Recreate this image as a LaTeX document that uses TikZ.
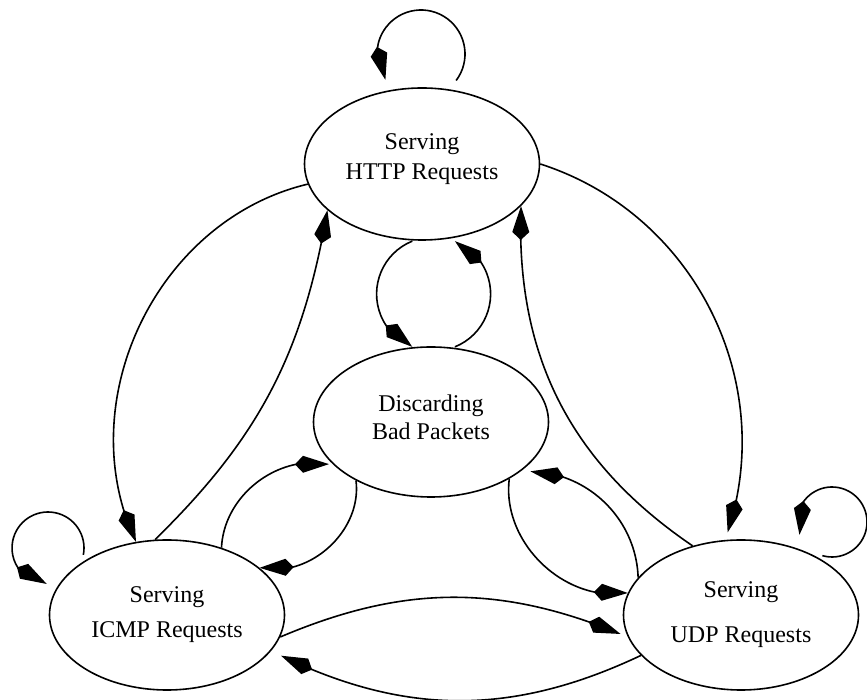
\documentclass[tikz,border=0pt]{standalone}
\usepackage{fontspec}
\setmainfont{Liberation Serif}
\usetikzlibrary{shapes.geometric,arrows.meta,bending,calc}
% invisible strut that deepens the last line of a label
\newcommand\deepline[1]{\rule[-#1]{0pt}{0pt}}
\begin{document}
\begin{tikzpicture}[x=1bp,y=1bp,
  state/.style={ellipse,draw,line width=1.6bp,minimum width=235bp,minimum height=150bp,
    inner sep=0pt,align=center,font=\fontsize{24bp}{30bp}\selectfont},
  edge/.style={line width=1.6bp,-{Kite[length=34bp,width=17bp,inset=8bp,flex]}}]
\useasboundingbox (0,0) rectangle (867,700);

% states
\node[state,minimum height=152bp] (http) at (422,536) {Serving\\HTTP Requests\deepline{15bp}};
\node[state] (disc) at (431,278) {Discarding\\[-2bp]Bad Packets\deepline{10bp}};
\node[state] (icmp) at (167,85) {Serving\\[5bp]ICMP Requests};
\node[state] (udp)  at (741,85) {Serving\\[15bp]UDP Requests};

% centres of the looping arcs
\coordinate (hloop) at ($(http.center)+(-1,110)$);
\coordinate (iloop) at ($(icmp.center)+(-119,67)$);
\coordinate (uloop) at ($(udp.center)+(91,93)$);
\coordinate (hd) at (433.6,406);

% self loops
\draw[edge] ($(hloop)+(-37:44)$) arc[start angle=-37,end angle=216,radius=44];
\draw[edge] ($(iloop)+(-11:36)$) arc[start angle=-11,end angle=268,radius=36];
\draw[edge] ($(uloop)+(-106:35)$) arc[start angle=-106,end angle=201.5,radius=35];

% HTTP <-> Discarding
\draw[edge] ($(hd)+(112:57)$) arc[start angle=112,end angle=248,radius=57];
\draw[edge] ($(hd)+(-68:57)$) arc[start angle=-68,end angle=68,radius=57];

% HTTP <-> ICMP
\draw[edge] (http.190) to[bend right=51] (icmp.113);
\draw[edge] (icmp.99) to[bend right=18] (http.206);

% HTTP <-> UDP
\draw[edge,shorten >=8bp] (http.0) to[bend left=46] (udp.102);
\draw[edge] (udp.125) to[bend left=29] (http.-23);

% Discarding <-> ICMP
\draw[edge,shorten >=5bp] (icmp.51) to[bend left=51] (disc.204);
\draw[edge] (disc.218) to[bend left=55] (icmp.27.5);

% Discarding <-> UDP
\draw[edge] (disc.-36) to[bend right=53] (udp.169);
\draw[edge,shorten >=10bp] (udp.160) to[bend right=46] (disc.-29);

% ICMP <-> UDP
\draw[edge,shorten >=8bp] (icmp.-11) to[bend left=23] (udp.191);
\draw[edge,shorten >=11bp] (udp.202) to[bend left=26] (icmp.-19);
\end{tikzpicture}
\end{document}
